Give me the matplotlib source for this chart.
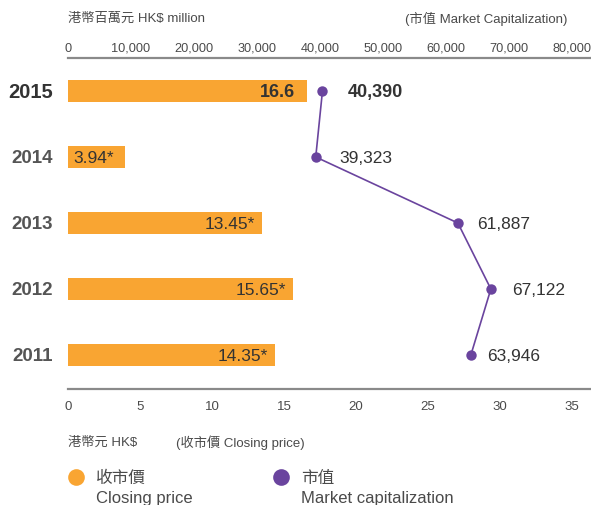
import matplotlib
matplotlib.use('Agg')
import matplotlib.pyplot as plt
from matplotlib.lines import Line2D

plt.rcParams['font.family'] = ['Liberation Sans', 'Noto Sans CJK TC']

years = ['2011', '2012', '2013', '2014', '2015']
closing_price = [14.35, 15.65, 13.45, 3.94, 16.6]
price_labels = ['14.35*', '15.65*', '13.45*', '3.94*', '16.6']
market_cap = [63946, 67122, 61887, 39323, 40390]
price_ticks = [0, 5, 10, 15, 20, 25, 30, 35]
cap_ticks = [0, 10000, 20000, 30000, 40000, 50000, 60000, 70000, 80000]

orange = '#F9A532'
purple = '#6A449E'
grey_txt = '#4a4a4a'
dark_txt = '#333333'

W, H = 591, 506
fig = plt.figure(figsize=(W / 100, H / 100), dpi=100)

# 座標區 (像素換算)
x0, x1 = 68, 572
ytop, ybot = 59, 390
ax = fig.add_axes([x0 / W, (H - ybot) / H, (x1 - x0) / W, (ybot - ytop) / H])
ax.set_xlim(0, 35)
ax.set_ylim(-0.515, 4.5)
for s in ax.spines.values():
    s.set_visible(False)
ax.set_yticks([])
ax.set_xticks(price_ticks)
ax.set_xticklabels([str(t) for t in price_ticks], fontsize=9.5, color=grey_txt)
ax.tick_params(axis='x', length=0, pad=8)

ypos = list(range(len(years)))
ax.barh(ypos, closing_price, height=0.335, color=orange, align='center')

for i, (v, lab) in enumerate(zip(closing_price, price_labels)):
    bold = years[i] == '2015'
    if years[i] == '2014':
        ax.annotate(lab, (0, i), xytext=(4, 0), textcoords='offset points',
                    ha='left', va='center', fontsize=12.5, color=dark_txt)
    else:
        off = -8.5 if bold else -5
        ax.annotate(lab, (v, i), xytext=(off, 0), textcoords='offset points',
                    ha='right', va='center', fontsize=13 if bold else 12.5,
                    color=dark_txt, fontweight='bold' if bold else 'normal')
    ax.annotate(years[i], (0, i), xytext=(-11, 0), textcoords='offset points',
                ha='right', va='center', fontsize=14.5 if bold else 13.5,
                fontweight='bold', color='#333333' if bold else '#555555')

# 市值
ax2 = ax.twiny()
ax2.set_xlim(0, 80000)
for s in ax2.spines.values():
    s.set_visible(False)
ax2.set_xticks(cap_ticks)
ax2.set_xticklabels([f'{t:,}' for t in cap_ticks], fontsize=9.2, color=grey_txt)
ax2.tick_params(axis='x', length=0, pad=3)
ax2.plot(market_cap, ypos, color=purple, lw=1.2, marker='o', markersize=7.5,
         markeredgewidth=0)
label_dx = [12, 15.5, 14, 17, 18]
for i, v in enumerate(market_cap):
    bold = years[i] == '2015'
    ax2.annotate(f'{v:,}', (v, i), xytext=(label_dx[i], 0),
                 textcoords='offset points', ha='left', va='center',
                 fontsize=13 if bold else 12.5, color=dark_txt,
                 fontweight='bold' if bold else 'normal')

# 上下橫線
for yl in (ytop, ybot):
    fig.add_artist(Line2D([x0 / W, 591 / W], [(H - yl) / H] * 2,
                          transform=fig.transFigure, color='#8a8a8a', lw=1.6))

fig.text(x0 / W, 1 - 19 / H, '港幣百萬元 HK$ million', fontsize=9.5,
         color=grey_txt, ha='left', va='center')
fig.text(567 / W, 1 - 19 / H, '(市值 Market Capitalization)', fontsize=9.5,
         color=grey_txt, ha='right', va='center')
fig.text(x0 / W, 1 - 443 / H, '港幣元 HK$', fontsize=9.5,
         color=grey_txt, ha='left', va='center')
fig.text(176 / W, 1 - 443 / H, '(收市價 Closing price)', fontsize=9.5,
         color=grey_txt, ha='left', va='center')

# 圖例
for cx, col, zh, en in [(76, orange, '收市價', 'Closing price'),
                        (281, purple, '市值', 'Market capitalization')]:
    fig.add_artist(Line2D([cx / W], [1 - 478 / H], marker='o', markersize=12,
                          color=col, markeredgewidth=0, transform=fig.transFigure))
    fig.text((cx + 20) / W, 1 - 478 / H, zh, fontsize=12, color=grey_txt,
             ha='left', va='center')
    fig.text((cx + 20) / W, 1 - 499 / H, en, fontsize=12, color=grey_txt,
             ha='left', va='center')

fig.savefig('out.png', dpi=100)
